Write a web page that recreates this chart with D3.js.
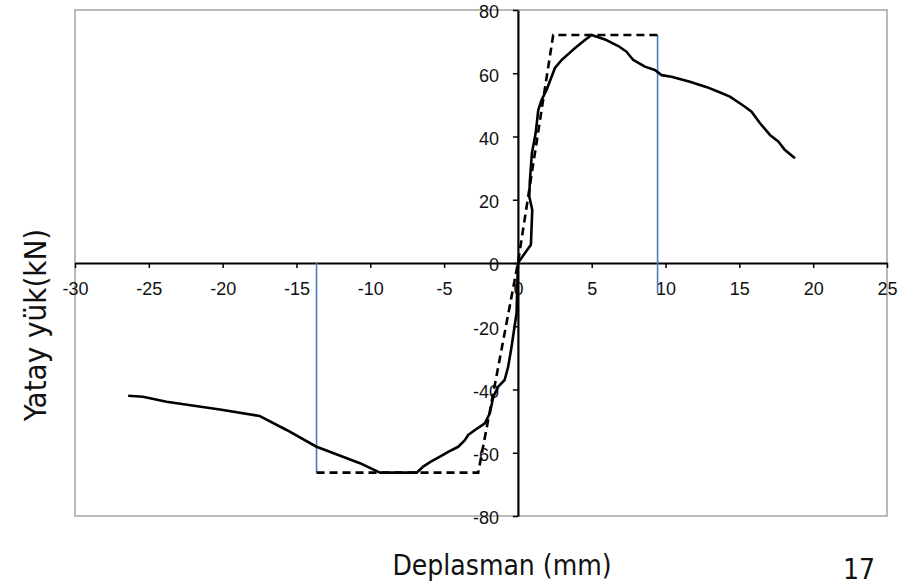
<!DOCTYPE html>
<html>
<head>
<meta charset="utf-8">
<script src="https://cdn.jsdelivr.net/npm/d3@7"></script>
<style>
  body { margin: 0; background: #fff; }
  .tick text { font-family: 'Liberation Sans', Arial, sans-serif; font-size: 18px; fill: #111; }
  .title { font-family: 'DejaVu Sans Condensed', 'DejaVu Sans', sans-serif; font-size: 28px; fill: #111; }
</style>
</head>
<body>
<svg width="909" height="586"></svg>
<script>
// tick labels
var xTicks = [-30, -25, -20, -15, -10, -5, 0, 5, 10, 15, 20, 25]
var yTicks = [-80, -60, -40, -20, 0, 20, 40, 60, 80]

// measured curve, positive (push) side: displacement mm / load kN
var posDisp = [0, 0.88, 0.97, 0.77, 0.81, 0.95, 1.2, 1.38, 1.6, 1.94, 2.5, 2.96, 3.73, 4.54, 4.99, 6.0, 6.8, 7.36, 7.81, 8.6, 9.28, 9.73, 10.4, 11.65, 12.8, 13.7, 14.36, 15.38, 15.83, 16.4, 17.07, 17.64, 18.09, 18.77]
var posLoad = [0, 5.8, 16.8, 21, 26, 34.8, 41, 48.4, 51.5, 54.7, 61.6, 64.2, 67.4, 70.5, 72.1, 70.5, 68.6, 66.8, 64.2, 62.1, 61.0, 59.4, 58.9, 57.3, 55.6, 53.9, 52.6, 49.4, 47.8, 44.2, 40.5, 38.4, 35.7, 33.1]

// measured curve, negative (pull) side
var negDisp = [0, -0.09, -0.43, -0.66, -0.9, -1.33, -1.67, -1.9, -2.24, -2.91, -3.37, -3.59, -4.04, -4.72, -5.28, -5.9, -6.42, -6.86, -9.35, -10.7, -13.64, -15.67, -17.48, -20.19, -23.8, -25.4, -26.4]
var negLoad = [0, -15.8, -26.5, -32.8, -37, -39.1, -42.3, -47.5, -50.7, -52.8, -54.4, -56, -58.1, -59.7, -61.2, -62.8, -64.4, -66.3, -66.3, -63.3, -58.1, -52.8, -48.4, -46.3, -43.9, -42.3, -42.0]

// idealised bilinear envelope (dashed)
var bilDisp = [-13.64, -2.69, 0, 2.39, 9.46]
var bilLoad = [-66.3, -66.3, 0, 72.1, 72.1]

// ultimate displacement markers (blue) : [disp, load from, load to]
var markers = [[9.46, 72.1, -9.5], [-13.64, 0, -66.3]]

var svg = d3.select('svg')

var x = d3.scaleLinear().domain([-30, 25]).range([75, 887])
var y = d3.scaleLinear().domain([-80, 80]).range([516, 10])

// plot frame
svg.append('rect')
    .attr('x', x(-30))
    .attr('y', y(80))
    .attr('width', x(25) - x(-30))
    .attr('height', y(-80) - y(80))
    .style('fill', 'none')
    .style('stroke', '#a3a3a3')
    .style('stroke-width', 1.5)

var xAxis = svg.append('g')
    .attr('transform', 'translate(0,' + y(0) + ')')
    .call(d3.axisBottom(x).tickValues(xTicks).tickSize(5).tickSizeOuter(0).tickPadding(14)
      .tickFormat(function (d) { return String(d) }))

var yAxis = svg.append('g')
    .attr('transform', 'translate(' + x(0) + ',0)')
    .call(d3.axisLeft(y).tickValues(yTicks).tickSize(5).tickSizeOuter(0).tickPadding(14)
      .tickFormat(function (d) { return String(d) }))

svg.selectAll('.domain').style('stroke', '#000').style('stroke-width', 2.2)
svg.selectAll('.tick line').style('stroke', '#000').style('stroke-width', 1.5)
yAxis.selectAll('.tick text').attr('dy', '0.44em')

// blue marker lines
svg.append('g').selectAll('line')
    .data(markers)
  .enter().append('line')
    .attr('x1', function (d) { return x(d[0]) })
    .attr('x2', function (d) { return x(d[0]) })
    .attr('y1', function (d) { return y(d[1]) })
    .attr('y2', function (d) { return y(d[2]) })
    .style('stroke', '#4a7ebb')
    .style('stroke-width', 1.6)

var line = d3.line()
    .x(function (d) { return x(d[0]) })
    .y(function (d) { return y(d[1]) })

svg.append('path')
    .attr('d', line(d3.zip(bilDisp, bilLoad)))
    .style('fill', 'none')
    .style('stroke', '#000')
    .style('stroke-width', 2.6)
    .style('stroke-dasharray', '8,5')

svg.append('path')
    .attr('d', line(d3.zip(posDisp, posLoad)))
    .style('fill', 'none')
    .style('stroke', '#000')
    .style('stroke-width', 2.6)
    .style('stroke-linejoin', 'round')

svg.append('path')
    .attr('d', line(d3.zip(negDisp, negLoad)))
    .style('fill', 'none')
    .style('stroke', '#000')
    .style('stroke-width', 2.6)
    .style('stroke-linejoin', 'round')

// titles
svg.append('text')
    .attr('class', 'title')
    .attr('x', 502)
    .attr('y', 575)
    .attr('text-anchor', 'middle')
    .text('Deplasman (mm)')

svg.append('text')
    .attr('class', 'title')
    .attr('transform', 'translate(46,325) rotate(-90)')
    .attr('text-anchor', 'middle')
    .style('font-size', '31px')
    .text('Yatay yük(kN)')

svg.append('text')
    .attr('class', 'title')
    .attr('x', 843)
    .attr('y', 579)
    .text('17')
</script>
</body>
</html>
